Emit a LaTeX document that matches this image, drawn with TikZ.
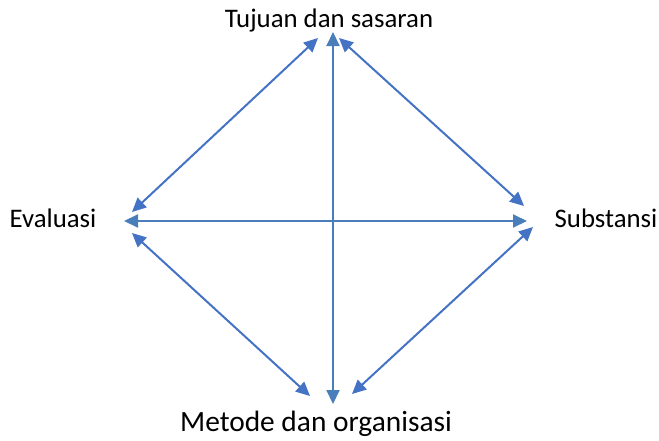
\documentclass[tikz,border=0pt]{standalone}
\usepackage{fontspec}
\setmainfont{Carlito}
\usetikzlibrary{arrows.meta}
\definecolor{diag}{HTML}{4472C4}
\definecolor{cross}{HTML}{4A7EBB}
\tikzset{
  lbl/.style={inner sep=0pt, font=\fontsize{26.8pt}{30pt}\selectfont},
  biarrow/.style={line width=2pt, {Triangle[length=14pt,width=13pt]}-{Triangle[length=14pt,width=13pt]}},
}
\begin{document}
\begin{tikzpicture}[x=1pt,y=-1pt]
\useasboundingbox (0,0) rectangle (659,440);
\node[lbl] (top) at (329,20) {Tujuan dan sasaran};
\node[lbl] (left) at (53,218) {Evaluasi};
\node[lbl] (right) at (606,218) {Substansi};
\node[lbl, font=\fontsize{29.4pt}{32pt}\selectfont] (bot) at (316,424) {Metode dan organisasi};
% arrow tip coordinates
\coordinate (tv) at (333,32);
\coordinate (bv) at (333,404);
\coordinate (lh) at (124,221);
\coordinate (rh) at (527,221);
\coordinate (tl) at (318,38);
\coordinate (tr) at (339,38);
\coordinate (lt) at (132,212);
\coordinate (lb) at (132,233);
\coordinate (rt) at (524,206);
\coordinate (rb) at (533,227);
\coordinate (bl) at (310,396);
\coordinate (br) at (352,394);
\draw[biarrow, cross] (tv) -- (bv);
\draw[biarrow, cross] (lh) -- (rh);
\draw[biarrow, diag] (tl) -- (lt);
\draw[biarrow, diag] (tr) -- (rt);
\draw[biarrow, diag] (lb) -- (bl);
\draw[biarrow, diag] (rb) -- (br);
\end{tikzpicture}
\end{document}
